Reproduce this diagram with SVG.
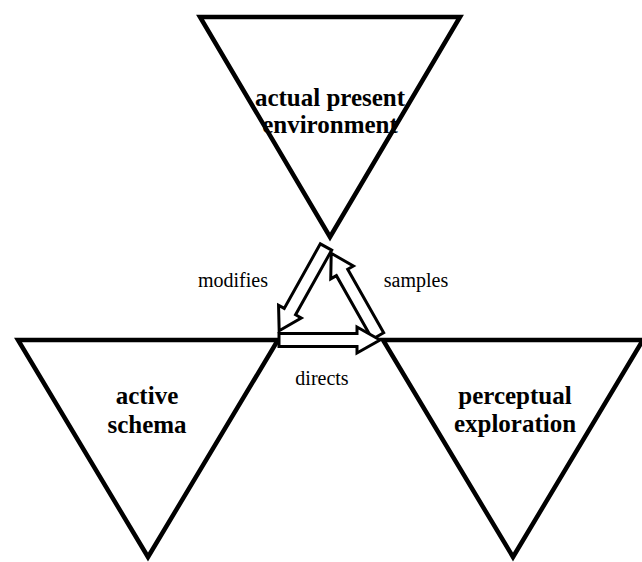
<svg xmlns="http://www.w3.org/2000/svg" width="642" height="562" viewBox="0 0 642 562">
<style>
.tri{fill:#fff;stroke:#000;stroke-width:4.5;stroke-linejoin:miter}
.arr{fill:#fff;stroke:#000;stroke-width:3;stroke-linejoin:miter}
.big{font-family:"Liberation Serif","Times New Roman",serif;font-weight:bold;font-size:25px;text-anchor:middle;fill:#000}
.lbl{font-family:"Liberation Serif","Times New Roman",serif;font-size:20px;text-anchor:middle;fill:#000}
</style>
<rect width="642" height="562" fill="#fff"/>
<g id="node-environment">
<polygon class="tri" points="200,17 460,17 330,237"/>
<text class="big" x="330" y="106">actual present</text>
<text class="big" x="330" y="133">environment</text>
</g>
<g id="node-schema">
<polygon class="tri" points="18,340 278,340 148,557"/>
<text class="big" x="147" y="404">active</text>
<text class="big" x="147" y="433">schema</text>
</g>
<g id="node-exploration">
<polygon class="tri" points="383,340 643,340 513,557"/>
<text class="big" x="515" y="404">perceptual</text>
<text class="big" x="515" y="432">exploration</text>
</g>
<g id="connectors">
<polygon class="arr" transform="translate(326,247) rotate(119.2)" points="0,-6.5 74,-6.5 74,-13 96,0 74,13 74,6.5 0,6.5"/>
<polygon class="arr" transform="translate(378,336) rotate(-119.5)" points="0,-6.5 73,-6.5 73,-13 95,0 73,13 73,6.5 0,6.5"/>
<polygon class="arr" transform="translate(279,340)" points="0,-6.5 78,-6.5 78,-13 101,0 78,13 78,6.5 0,6.5"/>
<text class="lbl" x="233" y="287">modifies</text>
<text class="lbl" x="416" y="287">samples</text>
<text class="lbl" x="322" y="385">directs</text>
</g>
</svg>
